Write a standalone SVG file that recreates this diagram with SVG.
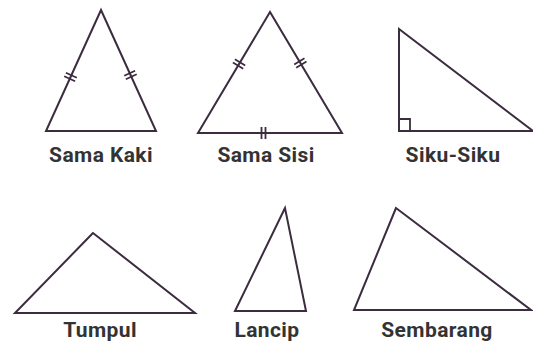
<svg xmlns="http://www.w3.org/2000/svg" width="533" height="342" viewBox="0 0 533 342">
<style>
.tri{fill:none;stroke:#3b2c3f;stroke-width:2;stroke-linejoin:miter}
.tick{fill:none;stroke:#3b2c3f;stroke-width:1.8}
.lbl{font-family:Roboto,"Liberation Sans",sans-serif;font-weight:bold;font-size:21px;letter-spacing:0.4px;fill:#333;text-anchor:middle}
</style>
<rect width="533" height="342" fill="#fff"/>
<g id="sama-kaki">
<polygon class="tri" points="101,10 46,131 156,131"/>
<path class="tick" d="M65.9,72.7L76.8,77.7M64.2,76.3L75.1,81.3M124.2,75.7L135.1,70.7M125.8,79.3L136.7,74.3"/>
<text class="lbl" x="101" y="162">Sama Kaki</text>
</g>
<g id="sama-sisi">
<polygon class="tri" points="270,12 198,133 342,133"/>
<path class="tick" d="M234.9,59.2L245.2,65.4M232.9,62.6L243.2,68.8M294.2,64.4L304.5,58.2M296.2,67.8L306.5,61.6M261.5,127L261.5,139M265.5,127L265.5,139"/>
<text class="lbl" x="266" y="162">Sama Sisi</text>
</g>
<g id="siku-siku">
<polygon class="tri" points="399,29 399,131 533,131"/>
<path class="tick" d="M399,119H410V131"/>
<text class="lbl" x="453" y="162">Siku-Siku</text>
</g>
<g id="tumpul">
<polygon class="tri" points="93,233 15,313 195,313"/>
<text class="lbl" x="100" y="337">Tumpul</text>
</g>
<g id="lancip">
<polygon class="tri" points="285,208 235,311 306,311"/>
<text class="lbl" x="267" y="337">Lancip</text>
</g>
<g id="sembarang">
<polygon class="tri" points="396,208 354,310 531,310"/>
<text class="lbl" x="437" y="337">Sembarang</text>
</g>
</svg>
